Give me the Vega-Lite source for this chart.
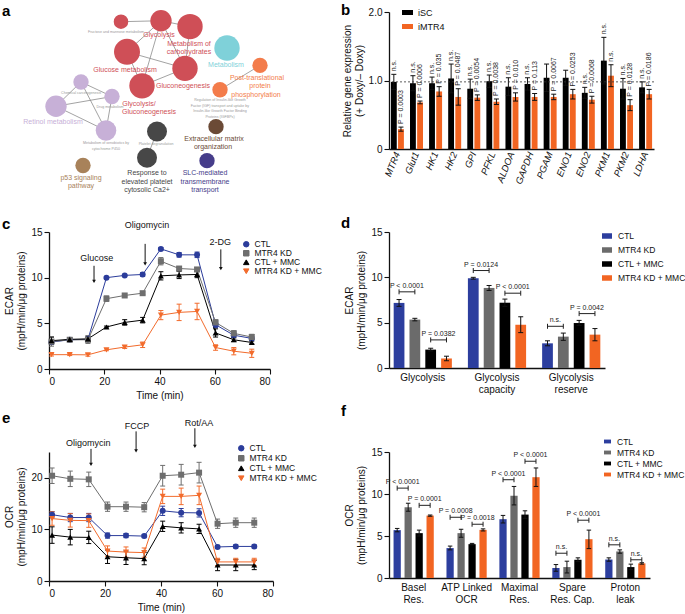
{
 "$schema": "https://vega.github.io/schema/vega-lite/v6.json",
 "padding": {"left": 2, "top": 3, "right": 2, "bottom": 2},
 "background": "white",
 "config": {
  "font": "Liberation Sans",
  "view": {"stroke": null},
  "axis": {"labelFontSize": 10, "titleFontSize": 10, "titleFontWeight": "normal", "labelColor": "#111", "titleColor": "#111", "domainColor": "#111", "tickColor": "#111", "domainWidth": 1.3, "tickWidth": 1.1, "tickSize": 5, "grid": false, "labelPadding": 2, "titlePadding": 4},
  "legend": {"labelFontSize": 8.5, "labelColor": "#111", "padding": 0},
  "title": {"anchor": "start", "frame": "group", "fontSize": 15, "fontWeight": "bold", "color": "#000", "offset": 0},
  "text": {"font": "Liberation Sans"}
 },
 "columns": 2,
 "spacing": {"row": 83, "column": 116},
 "bounds": "flush",
 "resolve": {
  "scale": {"color": "independent", "shape": "independent", "size": "independent", "xOffset": "independent", "x": "independent", "y": "independent"},
  "legend": {"color": "independent", "shape": "independent", "size": "independent"}
 },
 "concat": [
  {
   "width": 224, "height": 137,
   "title": {"text": "a", "dx": -47, "dy": 13},
   "layer": [
    {"data": {"name": "edges"}, "mark": {"type": "rule", "color": "#8c8c8c", "strokeWidth": 0.8},
     "encoding": {"x": {"field": "x1", "type": "quantitative", "scale": {"domain": [49, 273], "nice": false, "zero": false}, "axis": null},
      "y": {"field": "y1", "type": "quantitative", "scale": {"domain": [12, 153], "nice": false, "zero": false, "reverse": true}, "axis": null},
      "x2": {"field": "x2"}, "y2": {"field": "y2"}}},
    {"data": {"name": "nodes"}, "mark": {"type": "point", "shape": "circle", "filled": true, "opacity": 1},
     "encoding": {"x": {"field": "x", "type": "quantitative", "axis": null}, "y": {"field": "y", "type": "quantitative", "axis": null},
      "size": {"field": "count", "type": "quantitative", "scale": {"domain": [0, 169], "range": [0, 676]}, "legend": null},
      "color": {"field": "cluster", "type": "nominal", "scale": {"domain": ["red", "cyan", "orange", "purple", "gray", "brown", "tan", "navy"], "range": ["#cf4f57", "#7fd1d9", "#f37c4b", "#c7b0d7", "#474747", "#6b4a36", "#a8825a", "#463d8a"]}, "legend": null}}},
    {"data": {"name": "labels"}, "transform": [{"filter": "datum.kind == 'major'"}], "mark": {"type": "text", "fontSize": 7},
     "encoding": {"x": {"field": "x", "type": "quantitative", "axis": null}, "y": {"field": "y", "type": "quantitative", "axis": null}, "text": {"field": "text"}, "color": {"field": "cluster", "type": "nominal", "legend": null}}},
    {"data": {"name": "labels"}, "transform": [{"filter": "datum.kind == 'minor'"}], "mark": {"type": "text", "fontSize": 3.6, "color": "#9a9a9a"},
     "encoding": {"x": {"field": "x", "type": "quantitative", "axis": null}, "y": {"field": "y", "type": "quantitative", "axis": null}, "text": {"field": "text"}}}
   ]
  },
  {
   "width": 265, "height": 137,
   "title": {"text": "b", "dx": -48, "dy": 16},
   "layer": [
    {"data": {"name": "genes"},
     "encoding": {
      "x": {"field": "gene", "type": "nominal", "sort": null, "scale": {"paddingInner": 0.32, "paddingOuter": 0.1}, "axis": {"title": null, "labelAngle": -68, "labelFontStyle": "italic", "ticks": false, "labelPadding": 3, "labelFontSize": 9.5}},
      "xOffset": {"field": "grp", "type": "nominal", "scale": {"domain": ["iSC", "iMTR4"], "paddingInner": 0.18}}
     },
     "layer": [
      {"mark": {"type": "bar"}, "encoding": {
        "y": {"field": "v", "type": "quantitative", "scale": {"domain": [0, 2], "nice": false}, "axis": {"values": [0, 0.5, 1, 1.5, 2], "labelExpr": "datum.value == 0 ? '0' : format(datum.value, '.1f')", "title": ["Relative gene expression", "(+ Doxy/– Doxy)"]}},
        "color": {"field": "grp", "type": "nominal", "scale": {"domain": ["iSC", "iMTR4"], "range": ["#000000", "#f26522"]}, "legend": {"title": null, "orient": "none", "legendX": 12, "legendY": -6, "symbolType": "M-1,-0.45H1V0.45H-1Z", "symbolSize": 121, "rowPadding": 2, "labelFontSize": 9, "labelOffset": 4}}}},
      {"mark": {"type": "rule", "color": "#111", "strokeWidth": 1}, "encoding": {"y": {"field": "lo", "type": "quantitative"}, "y2": {"field": "hi"}}},
      {"mark": {"type": "point", "shape": "M-1,0H1", "filled": false, "color": "#111", "size": 25, "strokeWidth": 1, "opacity": 1}, "encoding": {"y": {"field": "hi", "type": "quantitative"}}},
      {"mark": {"type": "point", "shape": "M-1,0H1", "filled": false, "color": "#111", "size": 25, "strokeWidth": 1, "opacity": 1}, "encoding": {"y": {"field": "lo", "type": "quantitative"}}},
      {"mark": {"type": "text", "angle": 270, "align": "left", "baseline": "middle", "dx": 3, "fontSize": 7, "color": "#222"}, "encoding": {"y": {"field": "hi", "type": "quantitative"}, "text": {"field": "lab"}}}
     ]
    },
    {"data": {"values": [{"ref": 0.98}]}, "mark": {"type": "rule", "strokeDash": [2, 2], "color": "#333", "strokeWidth": 0.8}, "encoding": {"y": {"field": "ref", "type": "quantitative"}}}
   ]
  },
  {
   "width": 221, "height": 137,
   "title": {"text": "c", "dx": -47, "dy": 15},
   "layer": [
    {"data": {"name": "ecar"},
     "encoding": {
      "x": {"field": "t", "type": "quantitative", "scale": {"domain": [0, 80], "nice": false}, "axis": {"values": [0, 20, 40, 60, 80], "title": "Time (min)"}},
      "color": {"field": "g", "type": "nominal", "scale": {"domain": ["CTL", "MTR4 KD", "CTL + MMC", "MTR4 KD + MMC"], "range": ["#2b3c9b", "#6e6e6e", "#000000", "#f26b2c"]}, "legend": {"title": null, "orient": "none", "legendX": 193, "legendY": 8, "symbolSize": 30, "rowPadding": -1, "labelOffset": 4, "symbolStrokeWidth": 1}}
     },
     "layer": [
      {"mark": {"type": "rule", "strokeWidth": 1}, "encoding": {"y": {"field": "lo", "type": "quantitative", "scale": {"domain": [0, 15], "nice": false}, "axis": {"values": [0, 5, 10, 15], "title": ["ECAR", "(mpH/min/μg proteins)"]}}, "y2": {"field": "hi"}}},
      {"mark": {"type": "point", "shape": "M-1,0H1", "filled": false, "size": 25, "strokeWidth": 1, "opacity": 1}, "encoding": {"y": {"field": "lo", "type": "quantitative"}}},
      {"mark": {"type": "point", "shape": "M-1,0H1", "filled": false, "size": 25, "strokeWidth": 1, "opacity": 1}, "encoding": {"y": {"field": "hi", "type": "quantitative"}}},
      {"mark": {"type": "line", "strokeWidth": 1}, "encoding": {"y": {"field": "v", "type": "quantitative"}}},
      {"mark": {"type": "point", "filled": true, "size": 36, "opacity": 1}, "encoding": {"y": {"field": "v", "type": "quantitative"},
        "shape": {"field": "g", "type": "nominal", "scale": {"domain": ["CTL", "MTR4 KD", "CTL + MMC", "MTR4 KD + MMC"], "range": ["circle", "square", "triangle-up", "triangle-down"]}, "legend": {"title": null, "orient": "none", "legendX": 193, "legendY": 8, "symbolSize": 30, "rowPadding": -1, "labelOffset": 4, "symbolStrokeWidth": 1}}}}
     ]
    },
    {"data": {"name": "ecarAnno"},
     "layer": [
      {"mark": {"type": "rule", "color": "#111", "strokeWidth": 1}, "encoding": {"x": {"field": "t", "type": "quantitative"}, "y": {"field": "y1", "type": "quantitative"}, "y2": {"field": "y2"}}},
      {"mark": {"type": "point", "shape": "triangle-down", "filled": true, "color": "#111", "size": 14, "opacity": 1}, "encoding": {"x": {"field": "t", "type": "quantitative"}, "y": {"field": "y2", "type": "quantitative"}}},
      {"mark": {"type": "text", "fontSize": 9, "color": "#111"}, "encoding": {"x": {"field": "lt", "type": "quantitative"}, "y": {"field": "ly", "type": "quantitative"}, "text": {"field": "lab"}}}
     ]
    }
   ]
  },
  {
   "width": 216, "height": 136,
   "title": {"text": "d", "dx": -48, "dy": 8},
   "layer": [
    {"data": {"name": "ecarBar"},
     "encoding": {
      "x": {"field": "cat", "type": "nominal", "scale": {"domain": ["Glycolysis", "Glycolysis capacity", "Glycolysis reserve"], "paddingInner": 0.216, "paddingOuter": 0.063}, "axis": {"title": null, "labelAngle": 0, "ticks": false, "labelExpr": "split(datum.label, ' ')", "labelPadding": 4, "labelLineHeight": 12}},
      "xOffset": {"field": "g", "type": "nominal", "scale": {"domain": ["CTL", "MTR4 KD", "CTL + MMC", "MTR4 KD + MMC"], "paddingInner": 0.32}}
     },
     "layer": [
      {"mark": {"type": "bar"}, "encoding": {
        "y": {"field": "v", "type": "quantitative", "scale": {"domain": [0, 15], "nice": false}, "axis": {"values": [0, 5, 10, 15], "title": ["ECAR", "(mpH/min/μg proteins)"]}},
        "color": {"field": "g", "type": "nominal", "scale": {"domain": ["CTL", "MTR4 KD", "CTL + MMC", "MTR4 KD + MMC"], "range": ["#2c3e9e", "#6b6b6b", "#000000", "#f26522"]}, "legend": {"title": null, "orient": "none", "legendX": 212, "legendY": -2, "symbolType": "M-1,-0.55H1V0.55H-1Z", "symbolSize": 100, "rowPadding": 3, "labelOffset": 5}}}},
      {"mark": {"type": "rule", "color": "#111", "strokeWidth": 1}, "encoding": {"y": {"field": "lo", "type": "quantitative"}, "y2": {"field": "hi"}}},
      {"mark": {"type": "point", "shape": "M-1,0H1", "filled": false, "color": "#111", "size": 25, "strokeWidth": 1, "opacity": 1}, "encoding": {"y": {"field": "hi", "type": "quantitative"}}},
      {"mark": {"type": "point", "shape": "M-1,0H1", "filled": false, "color": "#111", "size": 25, "strokeWidth": 1, "opacity": 1}, "encoding": {"y": {"field": "lo", "type": "quantitative"}}}
     ]
    },
    {"data": {"name": "ecarBr"}, "transform": [{"fold": ["g1", "g2"], "as": ["end", "g"]}],
     "encoding": {
      "x": {"field": "cat", "type": "nominal"},
      "xOffset": {"field": "g", "type": "nominal"},
      "y": {"field": "y", "type": "quantitative"}
     },
     "layer": [
      {"mark": {"type": "line", "color": "#222", "strokeWidth": 1}, "encoding": {"detail": {"field": "id"}}},
      {"mark": {"type": "point", "shape": "M0,-1V1", "filled": false, "color": "#222", "size": 25, "strokeWidth": 1, "opacity": 1}}
     ]
    },
    {"data": {"name": "ecarBr"}, "mark": {"type": "text", "fontSize": 7, "baseline": "bottom", "dy": -3, "dx": 7.8, "color": "#222"},
     "encoding": {"x": {"field": "cat", "type": "nominal"}, "xOffset": {"field": "g1", "type": "nominal"}, "y": {"field": "y", "type": "quantitative"}, "text": {"field": "lab"}}}
   ]
  },
  {
   "width": 224, "height": 129,
   "title": {"text": "e", "dx": -47, "dy": 11},
   "layer": [
    {"data": {"name": "ocr"},
     "encoding": {
      "x": {"field": "t", "type": "quantitative", "scale": {"domain": [0, 80], "nice": false}, "axis": {"values": [0, 20, 40, 60, 80], "title": "Time (min)"}},
      "color": {"field": "g", "type": "nominal", "scale": {"domain": ["CTL", "MTR4 KD", "CTL + MMC", "MTR4 KD + MMC"], "range": ["#2b3c9b", "#6e6e6e", "#000000", "#f26b2c"]}, "legend": {"title": null, "orient": "none", "legendX": 188, "legendY": -8, "symbolSize": 30, "rowPadding": 0, "labelOffset": 4, "symbolStrokeWidth": 1}}
     },
     "layer": [
      {"mark": {"type": "rule", "strokeWidth": 1}, "encoding": {"y": {"field": "lo", "type": "quantitative", "scale": {"domain": [0, 25], "nice": false}, "axis": {"values": [0, 5, 10, 15, 20, 25], "title": ["OCR", "(mpH/min/μg proteins)"]}}, "y2": {"field": "hi"}}},
      {"mark": {"type": "point", "shape": "M-1,0H1", "filled": false, "size": 25, "strokeWidth": 1, "opacity": 1}, "encoding": {"y": {"field": "lo", "type": "quantitative"}}},
      {"mark": {"type": "point", "shape": "M-1,0H1", "filled": false, "size": 25, "strokeWidth": 1, "opacity": 1}, "encoding": {"y": {"field": "hi", "type": "quantitative"}}},
      {"mark": {"type": "line", "strokeWidth": 1}, "encoding": {"y": {"field": "v", "type": "quantitative"}}},
      {"mark": {"type": "point", "filled": true, "size": 36, "opacity": 1}, "encoding": {"y": {"field": "v", "type": "quantitative"},
        "shape": {"field": "g", "type": "nominal", "scale": {"domain": ["CTL", "MTR4 KD", "CTL + MMC", "MTR4 KD + MMC"], "range": ["circle", "square", "triangle-up", "triangle-down"]}, "legend": {"title": null, "orient": "none", "legendX": 188, "legendY": -8, "symbolSize": 30, "rowPadding": 0, "labelOffset": 4, "symbolStrokeWidth": 1}}}}
     ]
    },
    {"data": {"name": "ocrAnno"},
     "layer": [
      {"mark": {"type": "rule", "color": "#111", "strokeWidth": 1}, "encoding": {"x": {"field": "t", "type": "quantitative"}, "y": {"field": "y1", "type": "quantitative"}, "y2": {"field": "y2"}}},
      {"mark": {"type": "point", "shape": "triangle-down", "filled": true, "color": "#111", "size": 14, "opacity": 1}, "encoding": {"x": {"field": "t", "type": "quantitative"}, "y": {"field": "y2", "type": "quantitative"}}},
      {"mark": {"type": "text", "fontSize": 9, "color": "#111"}, "encoding": {"x": {"field": "lt", "type": "quantitative"}, "y": {"field": "ly", "type": "quantitative"}, "text": {"field": "lab"}}}
     ]
    }
   ]
  },
  {
   "width": 261, "height": 126,
   "title": {"text": "f", "dx": -48, "dy": -14},
   "layer": [
    {"data": {"name": "ocrBar"},
     "encoding": {
      "x": {"field": "cat", "type": "nominal", "scale": {"domain": ["Basel Res.", "ATP Linked OCR", "Maximal Res.", "Spare Res. Cap.", "Proton leak"], "paddingInner": 0.24, "paddingOuter": 0.086}, "axis": {"title": null, "labelAngle": 0, "ticks": false, "labelExpr": "datum.label == 'ATP Linked OCR' ? ['ATP Linked', 'OCR'] : datum.label == 'Spare Res. Cap.' ? ['Spare', 'Res. Cap.'] : split(datum.label, ' ')", "labelPadding": 4, "labelLineHeight": 12}},
      "xOffset": {"field": "g", "type": "nominal", "scale": {"domain": ["CTL", "MTR4 KD", "CTL + MMC", "MTR4 KD + MMC"], "paddingInner": 0.34}}
     },
     "layer": [
      {"mark": {"type": "bar"}, "encoding": {
        "y": {"field": "v", "type": "quantitative", "scale": {"domain": [0, 15], "nice": false}, "axis": {"values": [0, 5, 10, 15], "title": ["OCR", "(mpH/min/μg proteins)"]}},
        "color": {"field": "g", "type": "nominal", "scale": {"domain": ["CTL", "MTR4 KD", "CTL + MMC", "MTR4 KD + MMC"], "range": ["#2c3e9e", "#6b6b6b", "#000000", "#f26522"]}, "legend": {"title": null, "orient": "none", "legendX": 214, "legendY": -15, "symbolType": "M-1,-0.55H1V0.55H-1Z", "symbolSize": 49, "rowPadding": 2, "labelOffset": 5}}}},
      {"mark": {"type": "rule", "color": "#111", "strokeWidth": 1}, "encoding": {"y": {"field": "lo", "type": "quantitative"}, "y2": {"field": "hi"}}},
      {"mark": {"type": "point", "shape": "M-1,0H1", "filled": false, "color": "#111", "size": 20, "strokeWidth": 1, "opacity": 1}, "encoding": {"y": {"field": "hi", "type": "quantitative"}}},
      {"mark": {"type": "point", "shape": "M-1,0H1", "filled": false, "color": "#111", "size": 20, "strokeWidth": 1, "opacity": 1}, "encoding": {"y": {"field": "lo", "type": "quantitative"}}}
     ]
    },
    {"data": {"name": "ocrBr"}, "transform": [{"fold": ["g1", "g2"], "as": ["end", "g"]}],
     "encoding": {
      "x": {"field": "cat", "type": "nominal"},
      "xOffset": {"field": "g", "type": "nominal"},
      "y": {"field": "y", "type": "quantitative"}
     },
     "layer": [
      {"mark": {"type": "line", "color": "#222", "strokeWidth": 1}, "encoding": {"detail": {"field": "id"}}},
      {"mark": {"type": "point", "shape": "M0,-1V1", "filled": false, "color": "#222", "size": 25, "strokeWidth": 1, "opacity": 1}}
     ]
    },
    {"data": {"name": "ocrBr"}, "mark": {"type": "text", "fontSize": 7, "baseline": "bottom", "dy": -3, "dx": 5.5, "color": "#222"},
     "encoding": {"x": {"field": "cat", "type": "nominal"}, "xOffset": {"field": "g1", "type": "nominal"}, "y": {"field": "y", "type": "quantitative"}, "text": {"field": "lab"}}}
   ]
  }
 ],
 "datasets": {
  "nodes": [
   {"id": "fru", "x": 121, "y": 22, "count": 53, "cluster": "red"},
   {"id": "gly", "x": 161, "y": 21, "count": 114, "cluster": "red"},
   {"id": "carb", "x": 190, "y": 27, "count": 161, "cluster": "red"},
   {"id": "glcm", "x": 127, "y": 53, "count": 169, "cluster": "red"},
   {"id": "gng", "x": 185, "y": 70, "count": 161, "cluster": "red"},
   {"id": "ggn", "x": 142, "y": 88, "count": 161, "cluster": "red"},
   {"id": "met", "x": 227, "y": 49, "count": 161, "cluster": "cyan"},
   {"id": "ptp", "x": 260, "y": 67, "count": 59, "cluster": "orange"},
   {"id": "igf", "x": 220, "y": 92, "count": 59, "cluster": "orange"},
   {"id": "chem", "x": 81, "y": 84, "count": 59, "cluster": "purple"},
   {"id": "drug", "x": 112, "y": 99, "count": 59, "cluster": "purple"},
   {"id": "ret", "x": 56, "y": 109, "count": 114, "cluster": "purple"},
   {"id": "xeno", "x": 106, "y": 134, "count": 106, "cluster": "purple"},
   {"id": "plt", "x": 157, "y": 135, "count": 100, "cluster": "gray"},
   {"id": "ca", "x": 147, "y": 162, "count": 100, "cluster": "gray"},
   {"id": "ecm", "x": 216, "y": 130, "count": 59, "cluster": "brown"},
   {"id": "p53", "x": 83, "y": 170, "count": 59, "cluster": "tan"},
   {"id": "slc", "x": 207, "y": 165, "count": 59, "cluster": "navy"}
  ],
  "edges": [
   {"x1": 121, "y1": 22, "x2": 161, "y2": 21},
   {"x1": 161, "y1": 21, "x2": 190, "y2": 27},
   {"x1": 161, "y1": 21, "x2": 127, "y2": 53},
   {"x1": 161, "y1": 21, "x2": 142, "y2": 88},
   {"x1": 161, "y1": 21, "x2": 185, "y2": 70},
   {"x1": 127, "y1": 53, "x2": 185, "y2": 70},
   {"x1": 127, "y1": 53, "x2": 142, "y2": 88},
   {"x1": 142, "y1": 88, "x2": 185, "y2": 70},
   {"x1": 190, "y1": 27, "x2": 185, "y2": 70},
   {"x1": 260, "y1": 67, "x2": 220, "y2": 92},
   {"x1": 81, "y1": 84, "x2": 112, "y2": 99},
   {"x1": 81, "y1": 84, "x2": 56, "y2": 109},
   {"x1": 81, "y1": 84, "x2": 106, "y2": 134},
   {"x1": 56, "y1": 109, "x2": 112, "y2": 99},
   {"x1": 56, "y1": 109, "x2": 106, "y2": 134},
   {"x1": 112, "y1": 99, "x2": 106, "y2": 134},
   {"x1": 157, "y1": 135, "x2": 147, "y2": 162}
  ],
  "labels": [
   {"text": "Fructose and mannose metabolism", "x": 116, "y": 33, "cluster": "red", "kind": "minor"},
   {"text": "Glycolysis", "x": 159, "y": 36, "cluster": "red", "kind": "major"},
   {"text": "Metabolism of", "x": 189, "y": 45, "cluster": "red", "kind": "major"},
   {"text": "carbohydrates", "x": 189, "y": 53, "cluster": "red", "kind": "major"},
   {"text": "Glucose metabolism", "x": 125, "y": 72, "cluster": "red", "kind": "major"},
   {"text": "Gluconeogenesis", "x": 183, "y": 88, "cluster": "red", "kind": "major"},
   {"text": "Glycolysis/", "x": 139, "y": 107, "cluster": "red", "kind": "major"},
   {"text": "Gluconeogenesis", "x": 149, "y": 115, "cluster": "red", "kind": "major"},
   {"text": "Metabolism", "x": 226, "y": 67, "cluster": "cyan", "kind": "major"},
   {"text": "Post-translational", "x": 257, "y": 80, "cluster": "orange", "kind": "major"},
   {"text": "protein", "x": 260, "y": 88, "cluster": "orange", "kind": "major"},
   {"text": "phosphorylation", "x": 256, "y": 97, "cluster": "orange", "kind": "major"},
   {"text": "Regulation of Insulin-like Growth", "x": 220, "y": 103, "cluster": "orange", "kind": "minor"},
   {"text": "Factor (IGF) transport and uptake by", "x": 220, "y": 109, "cluster": "orange", "kind": "minor"},
   {"text": "Insulin-like Growth Factor Binding", "x": 220, "y": 114, "cluster": "orange", "kind": "minor"},
   {"text": "Proteins (IGFBPs)", "x": 220, "y": 120, "cluster": "orange", "kind": "minor"},
   {"text": "Chemical carcinogenesis", "x": 81, "y": 95, "cluster": "purple", "kind": "minor"},
   {"text": "Drug metabolism", "x": 110, "y": 110, "cluster": "purple", "kind": "minor"},
   {"text": "Retinol metabolism", "x": 53, "y": 125, "cluster": "purple", "kind": "major"},
   {"text": "Metabolism of xenobiotics by", "x": 106, "y": 147, "cluster": "purple", "kind": "minor"},
   {"text": "cytochrome P450", "x": 106, "y": 153, "cluster": "purple", "kind": "minor"},
   {"text": "Platelet degranulation", "x": 156, "y": 148, "cluster": "gray", "kind": "minor"},
   {"text": "Extracellular matrix", "x": 214, "y": 143, "cluster": "brown", "kind": "major"},
   {"text": "organization", "x": 213, "y": 151, "cluster": "brown", "kind": "major"},
   {"text": "Response to", "x": 147, "y": 178, "cluster": "gray", "kind": "major"},
   {"text": "elevated platelet", "x": 147, "y": 187, "cluster": "gray", "kind": "major"},
   {"text": "cytosolic Ca2+", "x": 147, "y": 195, "cluster": "gray", "kind": "major"},
   {"text": "p53 signaling", "x": 81, "y": 183, "cluster": "tan", "kind": "major"},
   {"text": "pathway", "x": 81, "y": 191, "cluster": "tan", "kind": "major"},
   {"text": "SLC-mediated", "x": 205, "y": 178, "cluster": "navy", "kind": "major"},
   {"text": "transmembrane", "x": 205, "y": 187, "cluster": "navy", "kind": "major"},
   {"text": "transport", "x": 205, "y": 195, "cluster": "navy", "kind": "major"}
  ],
  "genes": [
   {"gene": "MTR4", "grp": "iSC", "v": 0.98, "lo": 0.87, "hi": 1.09, "lab": "n.s."},
   {"gene": "MTR4", "grp": "iMTR4", "v": 0.29, "lo": 0.26, "hi": 0.32, "lab": "P = 0.0003"},
   {"gene": "Glut1", "grp": "iSC", "v": 0.96, "lo": 0.85, "hi": 1.07, "lab": "n.s."},
   {"gene": "Glut1", "grp": "iMTR4", "v": 0.68, "lo": 0.66, "hi": 0.7, "lab": "P = 0.0006"},
   {"gene": "HK1", "grp": "iSC", "v": 0.96, "lo": 0.87, "hi": 1.05, "lab": "n.s."},
   {"gene": "HK1", "grp": "iMTR4", "v": 0.84, "lo": 0.77, "hi": 0.91, "lab": "P = 0.035"},
   {"gene": "HK2", "grp": "iSC", "v": 1.03, "lo": 0.82, "hi": 1.24, "lab": "n.s."},
   {"gene": "HK2", "grp": "iMTR4", "v": 0.76, "lo": 0.64, "hi": 0.88, "lab": "P = 0.0487"},
   {"gene": "GPI", "grp": "iSC", "v": 0.88, "lo": 0.74, "hi": 1.02, "lab": "n.s."},
   {"gene": "GPI", "grp": "iMTR4", "v": 0.75, "lo": 0.71, "hi": 0.79, "lab": "P = 0.0054"},
   {"gene": "PFKL", "grp": "iSC", "v": 0.99, "lo": 0.9, "hi": 1.08, "lab": "n.s."},
   {"gene": "PFKL", "grp": "iMTR4", "v": 0.69, "lo": 0.65, "hi": 0.73, "lab": "P = 0.0038"},
   {"gene": "ALDOA", "grp": "iSC", "v": 0.91, "lo": 0.78, "hi": 1.04, "lab": "n.s."},
   {"gene": "ALDOA", "grp": "iMTR4", "v": 0.76, "lo": 0.7, "hi": 0.82, "lab": "P = 0.010"},
   {"gene": "GAPDH", "grp": "iSC", "v": 0.95, "lo": 0.86, "hi": 1.04, "lab": "n.s."},
   {"gene": "GAPDH", "grp": "iMTR4", "v": 0.76, "lo": 0.71, "hi": 0.81, "lab": "P = 0.113"},
   {"gene": "PGAM", "grp": "iSC", "v": 1.04, "lo": 0.84, "hi": 1.24, "lab": ""},
   {"gene": "PGAM", "grp": "iMTR4", "v": 0.76, "lo": 0.72, "hi": 0.8, "lab": "P = 0.0067"},
   {"gene": "ENO1", "grp": "iSC", "v": 1.04, "lo": 0.93, "hi": 1.15, "lab": ""},
   {"gene": "ENO1", "grp": "iMTR4", "v": 0.8, "lo": 0.73, "hi": 0.87, "lab": "P = 0.0253"},
   {"gene": "ENO2", "grp": "iSC", "v": 0.82, "lo": 0.74, "hi": 0.9, "lab": "n.s."},
   {"gene": "ENO2", "grp": "iMTR4", "v": 0.72, "lo": 0.67, "hi": 0.77, "lab": "P = 0.0068"},
   {"gene": "PKM1", "grp": "iSC", "v": 1.29, "lo": 0.95, "hi": 1.63, "lab": "n.s."},
   {"gene": "PKM1", "grp": "iMTR4", "v": 1.07, "lo": 0.91, "hi": 1.23, "lab": "n.s."},
   {"gene": "PKM2", "grp": "iSC", "v": 0.88, "lo": 0.73, "hi": 1.03, "lab": "n.s."},
   {"gene": "PKM2", "grp": "iMTR4", "v": 0.64, "lo": 0.56, "hi": 0.72, "lab": "P = 0.0128"},
   {"gene": "LDHA", "grp": "iSC", "v": 0.9, "lo": 0.82, "hi": 0.98, "lab": "n.s."},
   {"gene": "LDHA", "grp": "iMTR4", "v": 0.8, "lo": 0.73, "hi": 0.87, "lab": "P = 0.0186"}
  ],
  "ecar": [
   {"g": "CTL", "t": 0.9, "v": 2.95, "lo": 2.8, "hi": 3.1},
   {"g": "CTL", "t": 7.5, "v": 3.2, "lo": 3.05, "hi": 3.35},
   {"g": "CTL", "t": 14.1, "v": 3.25, "lo": 3.05, "hi": 3.45},
   {"g": "CTL", "t": 20.8, "v": 10.0, "lo": 9.9, "hi": 10.1},
   {"g": "CTL", "t": 27.4, "v": 10.25, "lo": 10.15, "hi": 10.35},
   {"g": "CTL", "t": 33.9, "v": 10.35, "lo": 10.15, "hi": 10.55},
   {"g": "CTL", "t": 40.5, "v": 13.15, "lo": 13.0, "hi": 13.3},
   {"g": "CTL", "t": 47.1, "v": 12.5, "lo": 12.25, "hi": 12.75},
   {"g": "CTL", "t": 53.6, "v": 12.5, "lo": 12.2, "hi": 12.8},
   {"g": "CTL", "t": 60.3, "v": 4.85, "lo": 4.55, "hi": 5.15},
   {"g": "CTL", "t": 66.9, "v": 3.7, "lo": 3.45, "hi": 3.95},
   {"g": "CTL", "t": 73.4, "v": 3.35, "lo": 3.15, "hi": 3.55},
   {"g": "MTR4 KD", "t": 0.9, "v": 3.0, "lo": 2.5, "hi": 3.5},
   {"g": "MTR4 KD", "t": 7.5, "v": 3.2, "lo": 3.0, "hi": 3.4},
   {"g": "MTR4 KD", "t": 14.1, "v": 3.2, "lo": 2.8, "hi": 3.6},
   {"g": "MTR4 KD", "t": 20.8, "v": 7.7, "lo": 7.4, "hi": 8.0},
   {"g": "MTR4 KD", "t": 27.4, "v": 8.05, "lo": 7.9, "hi": 8.2},
   {"g": "MTR4 KD", "t": 33.9, "v": 8.3, "lo": 8.15, "hi": 8.45},
   {"g": "MTR4 KD", "t": 40.5, "v": 11.8, "lo": 11.4, "hi": 12.2},
   {"g": "MTR4 KD", "t": 47.1, "v": 11.0, "lo": 10.8, "hi": 11.2},
   {"g": "MTR4 KD", "t": 53.6, "v": 10.9, "lo": 10.7, "hi": 11.1},
   {"g": "MTR4 KD", "t": 60.3, "v": 5.1, "lo": 4.8, "hi": 5.4},
   {"g": "MTR4 KD", "t": 66.9, "v": 3.9, "lo": 3.6, "hi": 4.2},
   {"g": "MTR4 KD", "t": 73.4, "v": 3.5, "lo": 3.2, "hi": 3.8},
   {"g": "CTL + MMC", "t": 0.9, "v": 3.1, "lo": 2.7, "hi": 3.5},
   {"g": "CTL + MMC", "t": 7.5, "v": 3.25, "lo": 3.05, "hi": 3.45},
   {"g": "CTL + MMC", "t": 14.1, "v": 3.3, "lo": 3.0, "hi": 3.6},
   {"g": "CTL + MMC", "t": 20.8, "v": 4.6, "lo": 4.5, "hi": 4.7},
   {"g": "CTL + MMC", "t": 27.4, "v": 5.1, "lo": 4.8, "hi": 5.4},
   {"g": "CTL + MMC", "t": 33.9, "v": 5.35, "lo": 5.05, "hi": 5.65},
   {"g": "CTL + MMC", "t": 40.5, "v": 10.2, "lo": 9.75, "hi": 10.65},
   {"g": "CTL + MMC", "t": 47.1, "v": 10.3, "lo": 9.9, "hi": 10.7},
   {"g": "CTL + MMC", "t": 53.6, "v": 10.35, "lo": 10.0, "hi": 10.7},
   {"g": "CTL + MMC", "t": 60.3, "v": 3.95, "lo": 3.5, "hi": 4.4},
   {"g": "CTL + MMC", "t": 66.9, "v": 3.2, "lo": 3.0, "hi": 3.4},
   {"g": "CTL + MMC", "t": 73.4, "v": 2.9, "lo": 2.75, "hi": 3.05},
   {"g": "MTR4 KD + MMC", "t": 0.9, "v": 1.57, "lo": 1.42, "hi": 1.72},
   {"g": "MTR4 KD + MMC", "t": 7.5, "v": 1.57, "lo": 1.47, "hi": 1.67},
   {"g": "MTR4 KD + MMC", "t": 14.1, "v": 1.55, "lo": 1.4, "hi": 1.7},
   {"g": "MTR4 KD + MMC", "t": 20.8, "v": 2.1, "lo": 2.0, "hi": 2.2},
   {"g": "MTR4 KD + MMC", "t": 27.4, "v": 2.4, "lo": 2.25, "hi": 2.55},
   {"g": "MTR4 KD + MMC", "t": 33.9, "v": 2.65, "lo": 2.35, "hi": 2.95},
   {"g": "MTR4 KD + MMC", "t": 40.5, "v": 5.9, "lo": 5.4, "hi": 6.4},
   {"g": "MTR4 KD + MMC", "t": 47.1, "v": 6.2, "lo": 5.3, "hi": 7.1},
   {"g": "MTR4 KD + MMC", "t": 53.6, "v": 6.3, "lo": 5.4, "hi": 7.2},
   {"g": "MTR4 KD + MMC", "t": 60.3, "v": 2.35, "lo": 2.05, "hi": 2.65},
   {"g": "MTR4 KD + MMC", "t": 66.9, "v": 1.95, "lo": 1.55, "hi": 2.35},
   {"g": "MTR4 KD + MMC", "t": 73.4, "v": 1.72, "lo": 1.27, "hi": 2.17}
  ],
  "ecarAnno": [
   {"t": 16.3, "y1": 11.3, "y2": 9.6, "lt": 17.3, "ly": 12.1, "lab": "Glucose"},
   {"t": 34.8, "y1": 13.7, "y2": 11.5, "lt": 35.5, "ly": 15.8, "lab": "Oligomycin"},
   {"t": 62.2, "y1": 13.1, "y2": 11.0, "lt": 62.0, "ly": 13.9, "lab": "2-DG"}
  ],
  "ocr": [
   {"g": "CTL", "t": 1.1, "v": 12.85, "lo": 12.25, "hi": 13.45},
   {"g": "CTL", "t": 7.6, "v": 12.3, "lo": 11.5, "hi": 13.1},
   {"g": "CTL", "t": 14.2, "v": 12.3, "lo": 11.5, "hi": 13.1},
   {"g": "CTL", "t": 20.9, "v": 8.8, "lo": 8.3, "hi": 9.3},
   {"g": "CTL", "t": 27.5, "v": 8.8, "lo": 8.4, "hi": 9.2},
   {"g": "CTL", "t": 34.0, "v": 8.7, "lo": 8.4, "hi": 9.0},
   {"g": "CTL", "t": 40.6, "v": 13.6, "lo": 12.7, "hi": 14.5},
   {"g": "CTL", "t": 47.2, "v": 13.25, "lo": 12.45, "hi": 14.05},
   {"g": "CTL", "t": 53.6, "v": 13.2, "lo": 12.4, "hi": 14.0},
   {"g": "CTL", "t": 60.2, "v": 6.6, "lo": 6.3, "hi": 6.9},
   {"g": "CTL", "t": 66.7, "v": 6.7, "lo": 6.4, "hi": 7.0},
   {"g": "CTL", "t": 73.3, "v": 6.7, "lo": 6.4, "hi": 7.0},
   {"g": "MTR4 KD", "t": 1.1, "v": 20.4, "lo": 18.9, "hi": 21.9},
   {"g": "MTR4 KD", "t": 7.6, "v": 19.8, "lo": 18.3, "hi": 21.3},
   {"g": "MTR4 KD", "t": 14.2, "v": 19.7, "lo": 18.3, "hi": 21.1},
   {"g": "MTR4 KD", "t": 20.9, "v": 14.4, "lo": 13.5, "hi": 15.3},
   {"g": "MTR4 KD", "t": 27.5, "v": 14.4, "lo": 13.5, "hi": 15.3},
   {"g": "MTR4 KD", "t": 34.0, "v": 14.3, "lo": 13.4, "hi": 15.2},
   {"g": "MTR4 KD", "t": 40.6, "v": 20.4, "lo": 18.4, "hi": 22.4},
   {"g": "MTR4 KD", "t": 47.2, "v": 20.6, "lo": 18.6, "hi": 22.6},
   {"g": "MTR4 KD", "t": 53.6, "v": 21.0, "lo": 19.0, "hi": 23.0},
   {"g": "MTR4 KD", "t": 60.2, "v": 11.1, "lo": 10.2, "hi": 12.0},
   {"g": "MTR4 KD", "t": 66.7, "v": 11.3, "lo": 10.4, "hi": 12.2},
   {"g": "MTR4 KD", "t": 73.3, "v": 11.3, "lo": 10.4, "hi": 12.2},
   {"g": "CTL + MMC", "t": 1.1, "v": 8.9, "lo": 7.3, "hi": 10.5},
   {"g": "CTL + MMC", "t": 7.6, "v": 8.5, "lo": 7.0, "hi": 10.0},
   {"g": "CTL + MMC", "t": 14.2, "v": 8.45, "lo": 7.25, "hi": 9.65},
   {"g": "CTL + MMC", "t": 20.9, "v": 4.7, "lo": 3.4, "hi": 6.0},
   {"g": "CTL + MMC", "t": 27.5, "v": 4.5, "lo": 3.2, "hi": 5.8},
   {"g": "CTL + MMC", "t": 34.0, "v": 4.35, "lo": 3.15, "hi": 5.55},
   {"g": "CTL + MMC", "t": 40.6, "v": 10.6, "lo": 9.6, "hi": 11.6},
   {"g": "CTL + MMC", "t": 47.2, "v": 10.3, "lo": 9.3, "hi": 11.3},
   {"g": "CTL + MMC", "t": 53.6, "v": 10.1, "lo": 9.2, "hi": 11.0},
   {"g": "CTL + MMC", "t": 60.2, "v": 3.1, "lo": 2.0, "hi": 4.2},
   {"g": "CTL + MMC", "t": 66.7, "v": 3.1, "lo": 2.0, "hi": 4.2},
   {"g": "CTL + MMC", "t": 73.3, "v": 3.1, "lo": 2.2, "hi": 4.0},
   {"g": "MTR4 KD + MMC", "t": 1.1, "v": 12.1, "lo": 10.8, "hi": 13.4},
   {"g": "MTR4 KD + MMC", "t": 7.6, "v": 11.75, "lo": 10.45, "hi": 13.05},
   {"g": "MTR4 KD + MMC", "t": 14.2, "v": 11.7, "lo": 10.4, "hi": 13.0},
   {"g": "MTR4 KD + MMC", "t": 20.9, "v": 5.8, "lo": 4.8, "hi": 6.8},
   {"g": "MTR4 KD + MMC", "t": 27.5, "v": 5.6, "lo": 4.6, "hi": 6.6},
   {"g": "MTR4 KD + MMC", "t": 34.0, "v": 5.5, "lo": 4.6, "hi": 6.4},
   {"g": "MTR4 KD + MMC", "t": 40.6, "v": 16.4, "lo": 15.0, "hi": 17.8},
   {"g": "MTR4 KD + MMC", "t": 47.2, "v": 16.4, "lo": 14.8, "hi": 18.0},
   {"g": "MTR4 KD + MMC", "t": 53.6, "v": 16.6, "lo": 14.8, "hi": 18.4},
   {"g": "MTR4 KD + MMC", "t": 60.2, "v": 3.7, "lo": 3.0, "hi": 4.4},
   {"g": "MTR4 KD + MMC", "t": 66.7, "v": 3.7, "lo": 3.0, "hi": 4.4},
   {"g": "MTR4 KD + MMC", "t": 73.3, "v": 3.7, "lo": 3.0, "hi": 4.4}
  ],
  "ocrAnno": [
   {"t": 15.0, "y1": 25.6, "y2": 22.6, "lt": 14.0, "ly": 26.8, "lab": "Oligomycin"},
   {"t": 31.1, "y1": 29.0, "y2": 25.2, "lt": 31.4, "ly": 30.1, "lab": "FCCP"},
   {"t": 52.1, "y1": 29.6, "y2": 26.1, "lt": 53.6, "ly": 30.7, "lab": "Rot/AA"}
  ],
  "ecarBar": [
   {"cat": "Glycolysis", "g": "CTL", "v": 7.18, "lo": 6.8, "hi": 7.55},
   {"cat": "Glycolysis", "g": "MTR4 KD", "v": 5.34, "lo": 5.2, "hi": 5.48},
   {"cat": "Glycolysis", "g": "CTL + MMC", "v": 2.03, "lo": 1.88, "hi": 2.18},
   {"cat": "Glycolysis", "g": "MTR4 KD + MMC", "v": 1.05, "lo": 0.8, "hi": 1.3},
   {"cat": "Glycolysis capacity", "g": "CTL", "v": 9.9, "lo": 9.8, "hi": 10.0},
   {"cat": "Glycolysis capacity", "g": "MTR4 KD", "v": 8.83, "lo": 8.55, "hi": 9.1},
   {"cat": "Glycolysis capacity", "g": "CTL + MMC", "v": 7.2, "lo": 6.8, "hi": 7.6},
   {"cat": "Glycolysis capacity", "g": "MTR4 KD + MMC", "v": 4.77, "lo": 3.9, "hi": 5.65},
   {"cat": "Glycolysis reserve", "g": "CTL", "v": 2.72, "lo": 2.45, "hi": 3.0},
   {"cat": "Glycolysis reserve", "g": "MTR4 KD", "v": 3.46, "lo": 3.05, "hi": 3.85},
   {"cat": "Glycolysis reserve", "g": "CTL + MMC", "v": 4.96, "lo": 4.7, "hi": 5.25},
   {"cat": "Glycolysis reserve", "g": "MTR4 KD + MMC", "v": 3.68, "lo": 3.0, "hi": 4.35}
  ],
  "ecarBr": [
   {"id": 1, "cat": "Glycolysis", "g1": "CTL", "g2": "MTR4 KD", "y": 8.4, "lab": "P < 0.0001"},
   {"id": 2, "cat": "Glycolysis", "g1": "CTL + MMC", "g2": "MTR4 KD + MMC", "y": 3.1, "lab": "P = 0.0382"},
   {"id": 3, "cat": "Glycolysis capacity", "g1": "CTL", "g2": "MTR4 KD", "y": 10.75, "lab": "P = 0.0124"},
   {"id": 4, "cat": "Glycolysis capacity", "g1": "CTL + MMC", "g2": "MTR4 KD + MMC", "y": 8.25, "lab": "P < 0.0001"},
   {"id": 5, "cat": "Glycolysis reserve", "g1": "CTL", "g2": "MTR4 KD", "y": 4.6, "lab": "n.s."},
   {"id": 6, "cat": "Glycolysis reserve", "g1": "CTL + MMC", "g2": "MTR4 KD + MMC", "y": 6.0, "lab": "P = 0.0042"}
  ],
  "ocrBar": [
   {"cat": "Basel Res.", "g": "CTL", "v": 5.7, "lo": 5.5, "hi": 5.9},
   {"cat": "Basel Res.", "g": "MTR4 KD", "v": 8.42, "lo": 7.95, "hi": 8.9},
   {"cat": "Basel Res.", "g": "CTL + MMC", "v": 5.34, "lo": 5.0, "hi": 5.7},
   {"cat": "Basel Res.", "g": "MTR4 KD + MMC", "v": 7.43, "lo": 7.35, "hi": 7.5},
   {"cat": "ATP Linked OCR", "g": "CTL", "v": 3.56, "lo": 3.35, "hi": 3.8},
   {"cat": "ATP Linked OCR", "g": "MTR4 KD", "v": 5.34, "lo": 4.85, "hi": 5.8},
   {"cat": "ATP Linked OCR", "g": "CTL + MMC", "v": 4.03, "lo": 3.95, "hi": 4.12},
   {"cat": "ATP Linked OCR", "g": "MTR4 KD + MMC", "v": 5.73, "lo": 5.6, "hi": 5.85},
   {"cat": "Maximal Res.", "g": "CTL", "v": 7.0, "lo": 6.55, "hi": 7.45},
   {"cat": "Maximal Res.", "g": "MTR4 KD", "v": 9.8, "lo": 8.7, "hi": 10.9},
   {"cat": "Maximal Res.", "g": "CTL + MMC", "v": 7.55, "lo": 7.1, "hi": 8.0},
   {"cat": "Maximal Res.", "g": "MTR4 KD + MMC", "v": 12.0, "lo": 10.9, "hi": 13.1},
   {"cat": "Spare Res. Cap.", "g": "CTL", "v": 1.19, "lo": 0.8, "hi": 1.6},
   {"cat": "Spare Res. Cap.", "g": "MTR4 KD", "v": 1.3, "lo": 0.6, "hi": 2.0},
   {"cat": "Spare Res. Cap.", "g": "CTL + MMC", "v": 2.17, "lo": 1.95, "hi": 2.4},
   {"cat": "Spare Res. Cap.", "g": "MTR4 KD + MMC", "v": 4.62, "lo": 3.5, "hi": 5.7},
   {"cat": "Proton leak", "g": "CTL", "v": 2.2, "lo": 2.0, "hi": 2.4},
   {"cat": "Proton leak", "g": "MTR4 KD", "v": 3.16, "lo": 2.95, "hi": 3.35},
   {"cat": "Proton leak", "g": "CTL + MMC", "v": 1.3, "lo": 1.0, "hi": 1.65},
   {"cat": "Proton leak", "g": "MTR4 KD + MMC", "v": 1.74, "lo": 1.65, "hi": 1.82}
  ],
  "ocrBr": [
   {"id": 1, "cat": "Basel Res.", "g1": "CTL", "g2": "MTR4 KD", "y": 10.7, "lab": "P < 0.0001"},
   {"id": 2, "cat": "Basel Res.", "g1": "CTL + MMC", "g2": "MTR4 KD + MMC", "y": 8.65, "lab": "P = 0.0001"},
   {"id": 3, "cat": "ATP Linked OCR", "g1": "CTL", "g2": "MTR4 KD", "y": 7.23, "lab": "P = 0.0008"},
   {"id": 4, "cat": "ATP Linked OCR", "g1": "CTL + MMC", "g2": "MTR4 KD + MMC", "y": 6.4, "lab": "P = 0.0018"},
   {"id": 5, "cat": "Maximal Res.", "g1": "CTL", "g2": "MTR4 KD", "y": 11.7, "lab": "P < 0.0001"},
   {"id": 6, "cat": "Maximal Res.", "g1": "CTL + MMC", "g2": "MTR4 KD + MMC", "y": 13.9, "lab": "P < 0.0001"},
   {"id": 7, "cat": "Spare Res. Cap.", "g1": "CTL", "g2": "MTR4 KD", "y": 2.95, "lab": "n.s."},
   {"id": 8, "cat": "Spare Res. Cap.", "g1": "CTL + MMC", "g2": "MTR4 KD + MMC", "y": 6.88, "lab": "P < 0.0001"},
   {"id": 9, "cat": "Proton leak", "g1": "CTL", "g2": "MTR4 KD", "y": 3.95, "lab": "n.s."},
   {"id": 10, "cat": "Proton leak", "g1": "CTL + MMC", "g2": "MTR4 KD + MMC", "y": 2.17, "lab": "n.s."}
  ]
 }
}
